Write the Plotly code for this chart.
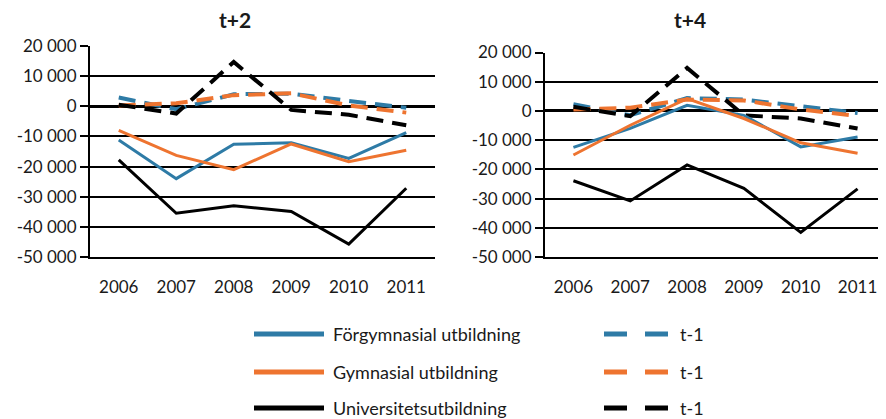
import plotly.graph_objects as go

years = ["2006", "2007", "2008", "2009", "2010", "2011"]
titles = ["t+2", "t+4"]
series_names = ["Förgymnasial utbildning", "Gymnasial utbildning", "Universitetsutbildning"]
lag_name = "t-1"
y_ticks = [20000, 10000, 0, -10000, -20000, -30000, -40000, -50000]
y_tick_labels = ["20 000", "10 000", "0", "-10 000", "-20 000", "-30 000", "-40 000", "-50 000"]

# t+2 panel
forgym_t2 = [-11200, -24000, -12600, -12100, -17300, -8700]
gym_t2 = [-8000, -16300, -21000, -12500, -18400, -14600]
univ_t2 = [-17800, -35500, -33000, -34900, -45700, -27200]
forgym_t2_lag = [2900, -1000, 4000, 4200, 1800, -500]
gym_t2_lag = [300, 1000, 3700, 4300, 300, -2100]
univ_t2_lag = [500, -2400, 14700, -1200, -2800, -6300]

# t+4 panel
forgym_t4 = [-12500, -6000, 1900, -1500, -12300, -8900]
gym_t4 = [-15100, -4900, 4200, -2600, -10900, -14500]
univ_t4 = [-23900, -30800, -18500, -26500, -41600, -26700]
forgym_t4_lag = [2300, -1500, 4400, 3900, 1600, -700]
gym_t4_lag = [500, 1100, 3900, 3600, 500, -1700]
univ_t4_lag = [1400, -1800, 14700, -1500, -2600, -6000]

colors = ["#2E7BA6", "#EE7430", "#000000"]
FONT = "Lato"
OFF = 8  # page body margin
W, H = 886 - OFF, 419 - OFF


def fx(px):
    return (px - OFF) / W


def fy(py):
    return 1 - (py - OFF) / H


fig = go.Figure()

panels = [
    ("x", "y", [forgym_t2, gym_t2, univ_t2], [forgym_t2_lag, gym_t2_lag, univ_t2_lag]),
    ("x2", "y2", [forgym_t4, gym_t4, univ_t4], [forgym_t4_lag, gym_t4_lag, univ_t4_lag]),
]
for xa, ya, solids, lags in panels:
    for name, vals, c in zip(series_names, lags, colors):
        fig.add_trace(go.Scatter(x=years, y=vals, mode="lines", name=lag_name,
                                 line=dict(color=c, width=4, dash="17px,9px"),
                                 xaxis=xa, yaxis=ya, showlegend=False))
    for name, vals, c in zip(series_names, solids, colors):
        fig.add_trace(go.Scatter(x=years, y=vals, mode="lines", name=name,
                                 line=dict(color=c, width=3),
                                 xaxis=xa, yaxis=ya, showlegend=False))

yaxis_style = dict(range=[-50000, 20000], tickvals=y_ticks, ticktext=y_tick_labels,
                   automargin=False,
                   showgrid=True, gridcolor="black", gridwidth=1.5,
                   zeroline=True, zerolinecolor="black", zerolinewidth=3,
                   showline=True, linecolor="black", linewidth=2,
                   ticks="outside", ticklen=8, tickcolor="black", tickwidth=1.5,
                   tickfont=dict(family=FONT, size=17, color="#1a1a1a"))
xaxis_style = dict(type="category", range=[-0.5, 5.5], automargin=False,
                   showgrid=False, showline=True,
                   linecolor="black", linewidth=1.5, ticks="", ticklabelstandoff=14,
                   tickfont=dict(family=FONT, size=17, color="#1a1a1a"))

fig.update_layout(
    width=W, height=H,
    margin=dict(l=0, r=0, t=0, b=0, pad=0),
    paper_bgcolor="white", plot_bgcolor="white",
    showlegend=False,
    xaxis=dict(domain=[fx(90), fx(435)], anchor="y", **xaxis_style),
    yaxis=dict(domain=[fy(257), fy(46)], anchor="x", **yaxis_style),
    xaxis2=dict(domain=[fx(545), 1.0], anchor="y2", **xaxis_style),
    yaxis2=dict(domain=[fy(257), fy(52.5)], anchor="x2", **yaxis_style),
)

# panel titles
for txt, px_x in zip(titles, [235, 690]):
    fig.add_annotation(text="<b>" + txt + "</b>", x=fx(px_x), y=fy(20),
                       xref="paper", yref="paper", showarrow=False,
                       xanchor="center", yanchor="middle",
                       font=dict(family=FONT, size=21, color="#1a1a1a"))

# manual legend
rows = [334, 372, 408]
for name, c, ry in zip(series_names, colors, rows):
    yy = fy(ry)
    fig.add_shape(type="line", xref="paper", yref="paper", x0=fx(254), x1=fx(324),
                  y0=yy, y1=yy, line=dict(color=c, width=5))
    fig.add_annotation(text=name, x=fx(331), y=yy, xref="paper", yref="paper",
                       xanchor="left", yanchor="middle", showarrow=False,
                       font=dict(family=FONT, size=18, color="#1a1a1a"))
    fig.add_shape(type="line", xref="paper", yref="paper", x0=fx(604), x1=fx(669),
                  y0=yy, y1=yy, line=dict(color=c, width=5, dash="23px,18px"))
    fig.add_annotation(text=lag_name, x=fx(678), y=yy, xref="paper", yref="paper",
                       xanchor="left", yanchor="middle", showarrow=False,
                       font=dict(family=FONT, size=18, color="#1a1a1a"))

fig.write_html("out.html")
